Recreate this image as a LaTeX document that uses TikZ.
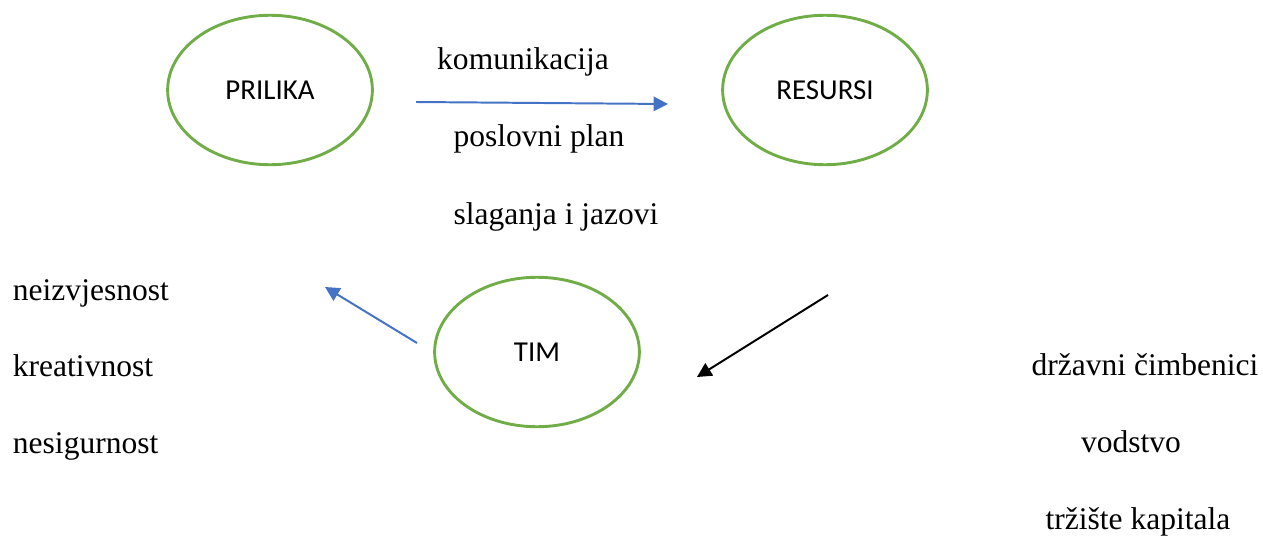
\documentclass[tikz,border=0pt]{standalone}
\usepackage{fontspec}
\setmainfont{Liberation Serif}
\newfontfamily\calibri{Carlito}
\usepackage{tikz}
\usetikzlibrary{arrows.meta,shapes.geometric}

\definecolor{offgreen}{RGB}{112,173,71}
\definecolor{offblue}{RGB}{68,114,196}

\tikzset{
	faktor/.style={shape=ellipse,draw=offgreen,line width=1.1pt,minimum width=2.74cm,minimum height=2cm,font=\calibri\fontsize{11}{13}\selectfont},
	pojam/.style={font=\fontsize{12}{14}\selectfont,anchor=base,inner sep=0pt},
	lijevo/.style={pojam,anchor=base west}
}

\begin{document}
\begin{tikzpicture}[x=0.01338cm,y=-0.01338cm,>={Triangle[length=5.5pt,width=5.5pt]},line width=0.75pt]
	\useasboundingbox (0,0) rectangle (1263,536);
	\node (prilika) [faktor] at (270,90) {PRILIKA};
	\node (resursi) [faktor] at (825,90) {RESURSI};
	\node (tim) [faktor] at (537,352) {TIM};

	\node (komunikacija) [pojam] at (523,70) {komunikacija};
	\node (plan) [pojam] at (539,147) {poslovni plan};
	\node (jazovi) [pojam] at (556,224) {slaganja i jazovi};

	\node (neizvjesnost) [lijevo] at (12,300) {neizvjesnost};
	\node (kreativnost) [lijevo] at (12,376) {kreativnost};
	\node (nesigurnost) [lijevo] at (12,453) {nesigurnost};

	\node (drzavni) [pojam] at (1145,375) {državni čimbenici};
	\node (vodstvo) [pojam] at (1131,452) {vodstvo};
	\node (trziste) [pojam] at (1138,529) {tržište kapitala};

	\coordinate (p1) at (416,102);
	\coordinate (p2) at (668,104);
	\coordinate (t1) at (417,343);
	\coordinate (t2) at (325,287);
	\coordinate (r1) at (828,295);
	\coordinate (r2) at (697,377);

	\draw[->,offblue] (p1) -- (p2);
	\draw[->,offblue] (t1) -- (t2);
	\draw[->,black] (r1) -- (r2);
\end{tikzpicture}
\end{document}
